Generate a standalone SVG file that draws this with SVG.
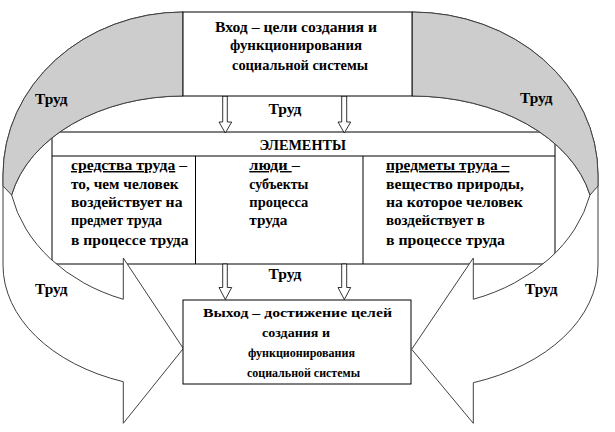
<svg xmlns="http://www.w3.org/2000/svg" width="615" height="432" viewBox="0 0 615 432">
<style>
.t{font-family:"Liberation Serif","Tinos","Times New Roman",serif;font-weight:bold;font-size:14px;fill:#000}
.c{text-anchor:middle}
.big{font-size:15px}
.el{font-size:14.5px}
.sm{font-size:13px}
.box{fill:#fff;stroke:#000;stroke-width:1}
.ln{stroke:#000;stroke-width:1}
.front{fill:#fff;stroke:#404040;stroke-width:1}
.back{fill:#cdcdcd;stroke:#404040;stroke-width:1}
.blk{fill:#fff;stroke:#000;stroke-width:0.8}
.u{text-decoration:underline}
</style>
<rect width="615" height="432" fill="#fff"/>
<g id="elements">
<rect class="box" x="52" y="132" width="503" height="132"/>
<line class="ln" x1="52" y1="156" x2="555" y2="156"/>
<line class="ln" x1="195.5" y1="156" x2="195.5" y2="264"/>
<line class="ln" x1="363" y1="156" x2="363" y2="264"/>
<text class="t el" x="259.5" y="150" textLength="86.5" lengthAdjust="spacingAndGlyphs">ЭЛЕМЕНТЫ</text>
<text class="t el" x="71" y="170" textLength="116" lengthAdjust="spacingAndGlyphs"><tspan class="u">средства труда</tspan> –</text>
<text class="t el" x="71" y="188.5" textLength="107.5" lengthAdjust="spacingAndGlyphs">то, чем человек</text>
<text class="t el" x="71" y="207" textLength="111.5" lengthAdjust="spacingAndGlyphs">воздействует на</text>
<text class="t el" x="71" y="225" textLength="91" lengthAdjust="spacingAndGlyphs">предмет труда</text>
<text class="t el" x="71" y="245" textLength="117.5" lengthAdjust="spacingAndGlyphs">в процессе труда</text>
<text class="t el" x="249.3" y="170" textLength="50.5" lengthAdjust="spacingAndGlyphs"><tspan class="u">люди </tspan>–</text>
<text class="t el" x="249.3" y="188.5" textLength="59" lengthAdjust="spacingAndGlyphs">субъекты</text>
<text class="t el" x="249.3" y="207" textLength="59" lengthAdjust="spacingAndGlyphs">процесса</text>
<text class="t el" x="249.3" y="225" textLength="38" lengthAdjust="spacingAndGlyphs">труда</text>
<text class="t el" x="386" y="170" textLength="123.3" lengthAdjust="spacingAndGlyphs"><tspan class="u">предметы труда –</tspan></text>
<text class="t el" x="386" y="188.5" textLength="138" lengthAdjust="spacingAndGlyphs">вещество природы,</text>
<text class="t el" x="386" y="207" textLength="136.7" lengthAdjust="spacingAndGlyphs">на которое человек</text>
<text class="t el" x="386" y="225" textLength="99" lengthAdjust="spacingAndGlyphs">воздействует в</text>
<text class="t el" x="386" y="245" textLength="119" lengthAdjust="spacingAndGlyphs">в процессе труда</text>
</g>
<g id="connectors">
<path class="front" d="M183 12 A180 163 0 0 0 3 175 L3 265 A180 123.7 0 0 0 123.3 381.7 L123.3 423.3 L183.3 348.5 L123.3 258 L123.3 299.3 A175 140.9 0 0 1 11.6 195 A175 124.5 0 0 1 183 96 Z"/>
<path class="back" d="M183 12 A180 163 0 0 0 3 175 L3 186 L11.6 195 A175 124.5 0 0 1 183 96 Z"/>
<path class="front" d="M412 12 A186 163 0 0 1 598 175 L598 265 A186 124.7 0 0 1 473.3 382.7 L473.3 423.3 L411.7 349.3 L473.3 258 L473.3 299.3 A182 142.4 0 0 0 590 195 A182 125.5 0 0 0 412 96 Z"/>
<path class="back" d="M412 12 A186 163 0 0 1 598 175 L598 186 L590 195 A182 125.5 0 0 0 412 96 Z"/>
<polygon class="blk" points="222.7,96 227.3,96 227.3,122 231.7,122 225.3,133 219,122 222.7,122"/>
<polygon class="blk" points="341.7,96 346.7,96 346.7,122 350.7,122 344.3,133 338,122 341.7,122"/>
<polygon class="blk" points="222.7,264 227.3,264 227.3,287.5 231.7,287.5 225.3,299.5 219,287.5 222.7,287.5"/>
<polygon class="blk" points="341.7,264 346.7,264 346.7,287.5 350.7,287.5 344.3,299.5 338,287.5 341.7,287.5"/>
<text class="t" x="35" y="103.5" textLength="32.5" lengthAdjust="spacingAndGlyphs">Труд</text>
<text class="t" x="520" y="103" textLength="32.5" lengthAdjust="spacingAndGlyphs">Труд</text>
<text class="t" x="35" y="293.5" textLength="32.5" lengthAdjust="spacingAndGlyphs">Труд</text>
<text class="t" x="525" y="293.5" textLength="32.5" lengthAdjust="spacingAndGlyphs">Труд</text>
<text class="t" x="268.5" y="114" textLength="33" lengthAdjust="spacingAndGlyphs">Труд</text>
<text class="t" x="268.5" y="278.5" textLength="33" lengthAdjust="spacingAndGlyphs">Труд</text>
</g>
<g id="input">
<rect class="box" x="183" y="12" width="229" height="84"/>
<text class="t big" x="215" y="31.5" textLength="162" lengthAdjust="spacingAndGlyphs">Вход – цели создания и</text>
<text class="t big" x="230" y="50" textLength="132" lengthAdjust="spacingAndGlyphs">функционирования</text>
<text class="t big" x="232" y="69.5" textLength="136" lengthAdjust="spacingAndGlyphs">социальной системы</text>
</g>
<g id="output">
<rect class="box" x="183" y="300" width="228" height="84"/>
<text class="t sm" x="203" y="316.5" textLength="189" lengthAdjust="spacingAndGlyphs">Выход – достижение целей</text>
<text class="t sm" x="262" y="336.5" textLength="68" lengthAdjust="spacingAndGlyphs">создания и</text>
<text class="t sm" x="248" y="356.5" textLength="107" lengthAdjust="spacingAndGlyphs">функционирования</text>
<text class="t sm" x="247" y="376.5" textLength="113" lengthAdjust="spacingAndGlyphs">социальной системы</text>
</g>
</svg>
